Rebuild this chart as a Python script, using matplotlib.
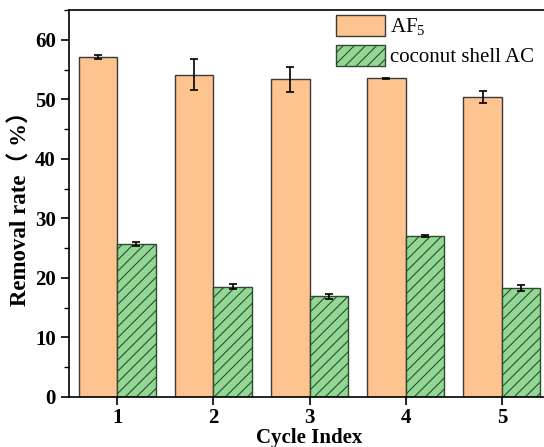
import matplotlib.pyplot as plt
import numpy as np
from matplotlib.ticker import MultipleLocator

plt.rcParams['font.family'] = ['Liberation Serif', 'Noto Sans CJK SC']
plt.rcParams['mathtext.fontset'] = 'custom'
plt.rcParams['mathtext.rm'] = 'Liberation Serif'
plt.rcParams['hatch.color'] = '#2f5a2f'
plt.rcParams['hatch.linewidth'] = 0.8

# data
cycles = [1, 2, 3, 4, 5]
af5 = [57.1, 54.1, 53.4, 53.5, 50.4]
af5_err = [0.4, 2.6, 2.1, 0.15, 1.0]
coco = [25.7, 18.5, 16.9, 27.1, 18.3]
coco_err = [0.4, 0.4, 0.4, 0.15, 0.5]

W, H = 544, 447
fig = plt.figure(figsize=(W/100, H/100), dpi=100)
ax = fig.add_axes([69/W, 50/H, 481/W, 387/H])

x = np.array(cycles)
w = 0.4
ax.bar(x - w/2, af5, w, color='#fdc48f', edgecolor='#3a3a3a', linewidth=1.0, label='AF$_{5}$')
ax.errorbar(x - w/2, af5, yerr=af5_err, fmt='none', ecolor='black', elinewidth=1.2, capsize=3, capthick=1.2)
ax.bar(x + w/2, coco, w, color='#92d894', edgecolor='#2f4a2f', linewidth=1.0, hatch='///', label='coconut shell AC')
ax.errorbar(x + w/2, coco, yerr=coco_err, fmt='none', ecolor='black', elinewidth=1.2, capsize=3, capthick=1.2)

ax.set_xlim(0.5, 5.5)
ax.set_ylim(0, 65)
ax.set_xticks(cycles)
ax.yaxis.set_major_locator(MultipleLocator(10))
ax.yaxis.set_minor_locator(MultipleLocator(5))
ax.tick_params(axis='both', which='major', direction='out', length=6, width=1.2, labelsize=15)
ax.tick_params(axis='x', which='major', pad=2)
ax.tick_params(axis='y', which='minor', direction='out', length=3.5, width=1.0)
for lab in ax.get_xticklabels() + ax.get_yticklabels():
    lab.set_fontweight('bold')
for s in ax.spines.values():
    s.set_linewidth(1.2)

ax.set_ylabel('Removal rate（ %）', fontsize=16.5, fontweight='bold', labelpad=2)
ax.set_xlabel('Cycle Index', fontsize=15, fontweight='bold', labelpad=0)

ax.legend(loc='upper left', bbox_to_anchor=(336/W, 1 - 15/H), bbox_transform=fig.transFigure,
          frameon=False, fontsize=15, borderpad=0, borderaxespad=0,
          handlelength=2.35, handleheight=1.2, handletextpad=0.25, labelspacing=0.3)

plt.savefig('out.png', dpi=100)
